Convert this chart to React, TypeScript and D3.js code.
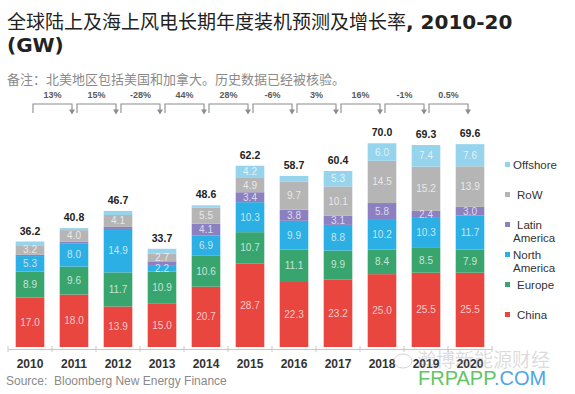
import * as d3 from "d3";
import { useEffect, useRef } from "react";

const years = ["2010", "2011", "2012", "2013", "2014", "2015", "2016", "2017", "2018", "2019", "2020"];
const china = [17.0, 18.0, 13.9, 15.0, 20.7, 28.7, 22.3, 23.2, 25.0, 25.5, 25.5];
const europe = [8.9, 9.6, 11.7, 10.9, 10.6, 10.7, 11.1, 9.9, 8.4, 8.5, 7.9];
const northAmerica = [5.3, 8.0, 14.9, 2.2, 6.9, 10.3, 9.9, 8.8, 10.2, 10.3, 11.7];
const latinAmerica = [0.5, 0.5, 0.7, 1.3, 4.1, 3.4, 3.8, 3.1, 5.8, 2.4, 3.0];
const restOfWorld = [3.2, 4.0, 4.1, 2.7, 5.5, 4.9, 9.7, 10.1, 14.5, 15.2, 13.9];
const offshore = [1.3, 0.7, 1.4, 1.6, 0.8, 4.2, 1.9, 5.3, 6.0, 7.4, 7.6];
const totals = [36.2, 40.8, 46.7, 33.7, 48.6, 62.2, 58.7, 60.4, 70.0, 69.3, 69.6];
const growth = ["13%", "15%", "-28%", "44%", "28%", "-6%", "3%", "16%", "-1%", "0.5%"];

const seriesKeys = ["China", "Europe", "North America", "Latin America", "RoW", "Offshore"];
const seriesValues = [china, europe, northAmerica, latinAmerica, restOfWorld, offshore];
const colors = ["#e8463f", "#38a56f", "#2bafe4", "#8b80c2", "#b5b5b5", "#95d4ec"];

// legend rows, top to bottom
const legendItems = [
  { key: "Offshore", lines: ["Offshore"], indent: 0 },
  { key: "RoW", lines: ["RoW"], indent: 4 },
  { key: "Latin America", lines: ["Latin", "America"], indent: 4 },
  { key: "North America", lines: ["North", "America"], indent: 0 },
  { key: "Europe", lines: ["Europe"], indent: 4 },
  { key: "China", lines: ["China"], indent: 4 },
];
const legendY = [165, 195, 225, 255, 285, 315];

const sans = "'Liberation Sans', Arial, sans-serif";

export default function App() {
  const ref = useRef<SVGSVGElement>(null);

  useEffect(() => {
    const width = 575;
    const height = 394;
    const svg = d3.select(ref.current).attr("width", width).attr("height", height);
    svg.selectAll("*").remove();

    svg.append("rect").attr("width", width).attr("height", height).attr("fill", "#fff");

    const table = years.map((y, i) => {
      const row: any = { year: y };
      seriesKeys.forEach((k, j) => (row[k] = seriesValues[j][i]));
      return row;
    });

    const x = d3.scaleBand()
      .domain(years)
      .range([8, 492])
      .paddingInner(0.35)
      .paddingOuter(0.175);

    const y = d3.scaleLinear().domain([0, 70]).range([347, 143]);
    const color = d3.scaleOrdinal<string>().domain(seriesKeys).range(colors);

    const stacked = d3.stack().keys(seriesKeys)(table);

    // Title
    const title = svg.append("text").attr("x", 7).attr("y", 29).attr("fill", "#222");
    title.append("tspan")
      .attr("font-family", "'Noto Sans CJK SC', sans-serif")
      .attr("font-size", 19)
      .text("全球陆上及海上风电长期年度装机预测及增长率");
    title.append("tspan")
      .attr("font-family", "'DejaVu Sans', sans-serif")
      .attr("font-weight", "bold")
      .attr("font-size", 20)
      .text(", 2010-20");
    svg.append("text")
      .attr("x", 7).attr("y", 52)
      .attr("fill", "#222")
      .attr("font-family", "'DejaVu Sans', sans-serif")
      .attr("font-weight", "bold")
      .attr("font-size", 20)
      .text("(GW)");

    svg.append("text")
      .attr("x", 7).attr("y", 84)
      .attr("fill", "#8a8a8a")
      .attr("font-family", "'Noto Sans CJK SC', sans-serif")
      .attr("font-size", 13)
      .text("备注：北美地区包括美国和加拿大。历史数据已经被核验。");

    // Growth brackets
    const cx = (i: number) => (x(years[i]) as number) + x.bandwidth() / 2;
    const brackets = svg.append("g").attr("stroke", "#8c8c8c").attr("fill", "none").attr("stroke-width", 1.1);
    growth.forEach((g, i) => {
      const x0 = cx(i) + 3;
      const x1 = cx(i + 1) - 2;
      brackets.append("path").attr("d", `M${x0},113V104H${x1}V112`);
      brackets.append("path")
        .attr("d", `M${x1 - 2},110L${x1},113.5L${x1 + 2},110Z`)
        .attr("fill", "#8c8c8c");
      svg.append("text")
        .attr("x", (x0 + x1) / 2)
        .attr("y", 98)
        .attr("text-anchor", "middle")
        .attr("font-family", sans)
        .attr("font-weight", "bold")
        .attr("font-size", 9)
        .attr("fill", "#5a5a5a")
        .text(g);
    });

    // Bars
    svg.append("g")
      .selectAll("g")
      .data(stacked)
      .join("g")
      .attr("fill", (d) => color(d.key))
      .selectAll("rect")
      .data((d) => d)
      .join("rect")
      .attr("x", (d: any) => x(d.data.year) as number)
      .attr("y", (d) => y(d[1]))
      .attr("width", x.bandwidth())
      .attr("height", (d) => y(d[0]) - y(d[1]));

    // Segment labels
    stacked.forEach((s) => {
      svg.append("g")
        .selectAll("text")
        .data(s.filter((d) => d[1] - d[0] >= 2))
        .join("text")
        .attr("x", (d: any) => (x(d.data.year) as number) + x.bandwidth() / 2)
        .attr("y", (d) => (y(d[0]) + y(d[1])) / 2 + 3.5)
        .attr("text-anchor", "middle")
        .attr("font-family", sans)
        .attr("font-size", 10)
        .attr("fill", "#fff")
        .attr("fill-opacity", 0.72)
        .text((d) => (d[1] - d[0]).toFixed(1));
    });

    // Totals
    const top = stacked[stacked.length - 1];
    svg.append("g")
      .selectAll("text")
      .data(top)
      .join("text")
      .attr("x", (d: any) => (x(d.data.year) as number) + x.bandwidth() / 2)
      .attr("y", (d) => y(d[1]) - 7)
      .attr("text-anchor", "middle")
      .attr("font-family", sans)
      .attr("font-weight", "bold")
      .attr("font-size", 10.5)
      .attr("fill", "#222")
      .text((d, i) => totals[i].toFixed(1));

    // X axis
    const axis = svg.append("g")
      .attr("transform", "translate(0,349)")
      .call(d3.axisBottom(x).tickSize(0).tickPadding(10));
    axis.select(".domain").attr("stroke", "#c8c8c8");
    axis.selectAll(".tick text")
      .attr("font-family", sans)
      .attr("font-weight", "bold")
      .attr("font-size", 12)
      .attr("fill", "#333");
    svg.append("g")
      .selectAll("line")
      .data(years.concat(["end"]))
      .join("line")
      .attr("x1", (d, i) => (x(years[0]) as number) - x.step() * 0.175 + i * x.step())
      .attr("x2", (d, i) => (x(years[0]) as number) - x.step() * 0.175 + i * x.step())
      .attr("y1", 346)
      .attr("y2", 352)
      .attr("stroke", "#c8c8c8");

    // Legend
    const legend = svg.append("g");
    legendItems.forEach((item, i) => {
      legend.append("rect")
        .attr("x", 505).attr("y", legendY[i] - 3)
        .attr("width", 5).attr("height", 5)
        .attr("fill", color(item.key));
      item.lines.forEach((line, j) => {
        legend.append("text")
          .attr("x", 513 + (j === 0 ? item.indent : 0))
          .attr("y", legendY[i] + 4 + j * 13)
          .attr("font-family", sans)
          .attr("font-size", 11.5)
          .attr("fill", "#333")
          .text(line);
      });
    });

    // Source
    svg.append("text")
      .attr("x", 6).attr("y", 385)
      .attr("font-family", sans)
      .attr("font-size", 12)
      .attr("fill", "#8a8a8a")
      .attr("xml:space", "preserve")
      .text("Source:  Bloomberg New Energy Finance");

    // Watermark
    svg.append("text")
      .attr("x", 417).attr("y", 367)
      .attr("font-family", "'Noto Sans CJK SC', sans-serif")
      .attr("font-size", 19)
      .attr("fill", "#999")
      .attr("fill-opacity", 0.35)
      .text("瀚博新能源财经");
    svg.append("ellipse")
      .attr("cx", 403).attr("cy", 361).attr("rx", 9).attr("ry", 7)
      .attr("fill", "none").attr("stroke", "#aaa").attr("stroke-opacity", 0.5);
    const wm = svg.append("text")
      .attr("x", 418).attr("y", 385)
      .attr("font-family", sans)
      .attr("font-size", 20);
    wm.append("tspan").attr("fill", "#62c462").text("FRPAPP");
    wm.append("tspan").attr("fill", "#4fa6e6").text(".COM");
  }, []);

  return (
    <div style={{ position: "absolute", left: 0, top: 0 }}>
      <svg ref={ref} style={{ display: "block" }}></svg>
    </div>
  );
}
